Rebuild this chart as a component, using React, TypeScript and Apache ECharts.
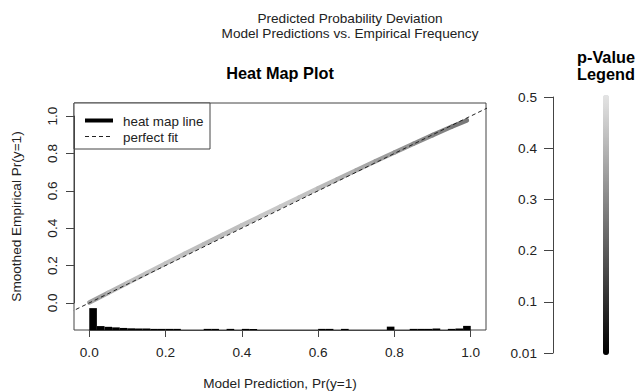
import React, { useEffect, useRef } from "react";
import * as echarts from "echarts";

// ---- data ----
const xTicks = [0, 0.2, 0.4, 0.6, 0.8, 1.0];
const yTicks = [0, 0.2, 0.4, 0.6, 0.8, 1.0];
const pTicks = [0.01, 0.1, 0.2, 0.3, 0.4, 0.5];

// heat map (smoothed calibration) line
const heatX = [0.0, 0.05, 0.1, 0.15, 0.2, 0.25, 0.3, 0.35, 0.4, 0.45, 0.5, 0.55, 0.6, 0.65, 0.7, 0.75, 0.8, 0.85, 0.9, 0.95, 0.99];
const heatY = [0.002, 0.054, 0.107, 0.159, 0.211, 0.263, 0.314, 0.365, 0.415, 0.465, 0.515, 0.564, 0.613, 0.662, 0.71, 0.758, 0.805, 0.852, 0.898, 0.943, 0.977];
const heatP = [0.36, 0.4, 0.42, 0.43, 0.43, 0.42, 0.41, 0.42, 0.43, 0.44, 0.44, 0.43, 0.41, 0.39, 0.37, 0.35, 0.33, 0.31, 0.29, 0.27, 0.25];

// perfect fit line (y = x)
const perfectX = [-0.2, 1.2];

// histogram of predictions (bin start, height in y units)
const histStart = [0.0, 0.02, 0.04, 0.06, 0.08, 0.1, 0.12, 0.14, 0.16, 0.18, 0.2, 0.22, 0.3, 0.32, 0.36, 0.4, 0.42, 0.6, 0.62, 0.66, 0.78, 0.84, 0.86, 0.88, 0.9, 0.94, 0.96, 0.98];
const histHeight = [0.117, 0.021, 0.017, 0.014, 0.011, 0.009, 0.008, 0.008, 0.006, 0.006, 0.006, 0.006, 0.006, 0.006, 0.006, 0.006, 0.006, 0.006, 0.006, 0.006, 0.018, 0.006, 0.006, 0.006, 0.008, 0.006, 0.008, 0.022];
const histBinWidth = 0.02;

// ---- layout ----
const X_MIN = -0.04, X_MAX = 1.04, Y_MIN = -0.145, Y_MAX = 1.07;
const PL = 74, PT = 103, PW = 412, PH = 227;
const FONT = "'Liberation Sans', Arial, sans-serif";
const TXT = "#222";
const AX = "#444";

export default function App() {
  const ref = useRef<HTMLDivElement>(null);
  useEffect(() => {
    if (!ref.current) return;
    document.body.style.margin = "0";
    const chart = echarts.init(ref.current, null, { renderer: "svg" });

    const xs = PW / (X_MAX - X_MIN);
    const ys = PH / (Y_MAX - Y_MIN);
    const axLeft = PL + (0 - X_MIN) * xs;
    const axWidth = (xTicks[xTicks.length - 1] - xTicks[0]) * xs;
    const axTop = PT + (Y_MAX - 1) * ys;
    const axHeight = (yTicks[yTicks.length - 1] - yTicks[0]) * ys;

    const heatSegs = heatX.slice(0, -1).map((x, i) => [x, heatY[i], heatX[i + 1], heatY[i + 1], heatP[i]]);
    const hist = histStart.map((s, i) => [s, s + histBinWidth, histHeight[i]]);

    const labelStyle = { color: TXT, fontSize: 13.6, fontFamily: FONT };

    chart.setOption({
      animation: false,
      backgroundColor: "#fff",
      grid: [
        { left: PL, top: PT, width: PW, height: PH, show: true, borderColor: AX, borderWidth: 1, backgroundColor: "transparent" },
        { left: axLeft, top: axTop, width: axWidth, height: axHeight, show: false },
        { left: 553, top: 97, width: 40, height: 256, show: false },
      ],
      xAxis: [
        { gridIndex: 0, type: "value", min: X_MIN, max: X_MAX, show: false },
        {
          gridIndex: 1, type: "value", min: 0, max: 1, interval: 0.2, position: "bottom", offset: PT + PH - (axTop + axHeight),
          axisLine: { show: true, onZero: false, lineStyle: { color: AX, width: 1 } },
          axisTick: { show: true, length: 7, lineStyle: { color: AX } },
          splitLine: { show: false },
          axisLabel: { ...labelStyle, margin: 15, formatter: (v: number) => v.toFixed(1) },
        },
        { gridIndex: 2, type: "value", min: 0, max: 1, show: false },
      ],
      yAxis: [
        { gridIndex: 0, type: "value", min: Y_MIN, max: Y_MAX, show: false },
        {
          gridIndex: 1, type: "value", min: 0, max: 1, interval: 0.2, position: "left", offset: axLeft - PL,
          axisLine: { show: true, onZero: false, lineStyle: { color: AX, width: 1 } },
          axisTick: { show: true, length: 8, lineStyle: { color: AX } },
          splitLine: { show: false },
          axisLabel: { ...labelStyle, margin: 15, rotate: 90, formatter: (v: number) => v.toFixed(1) },
        },
        {
          gridIndex: 2, type: "value", min: 0, max: 0.5, interval: 0.1, position: "left",
          axisLine: { show: true, onZero: false, lineStyle: { color: AX, width: 1 } },
          axisTick: { show: true, length: 9, lineStyle: { color: AX } },
          splitLine: { show: false },
          axisLabel: {
            ...labelStyle, margin: 16,
            formatter: (v: number) => (v === 0 ? pTicks[0].toFixed(2) : v.toFixed(1)),
          },
        },
      ],
      visualMap: {
        type: "continuous",
        min: pTicks[0], max: pTicks[pTicks.length - 1],
        dimension: 4,
        seriesIndex: 1,
        orient: "vertical",
        left: 603, top: 95,
        itemWidth: 6, itemHeight: 260,
        padding: 0,
        calculable: false,
        hoverLink: false,
        inRange: { color: ["#000000", "#e4e4e4"] },
      },
      series: [
        {
          type: "custom", xAxisIndex: 0, yAxisIndex: 0, clip: true, z: 2,
          data: hist,
          encode: { x: [0, 1], y: 2 },
          renderItem: (params: any, api: any) => {
            const p0 = api.coord([api.value(0), Y_MIN]);
            const p1 = api.coord([api.value(1), Y_MIN + api.value(2)]);
            return {
              type: "rect",
              shape: { x: p0[0], y: p1[1], width: p1[0] - p0[0], height: p0[1] - p1[1] },
              style: { fill: "#000" },
            };
          },
        },
        {
          type: "custom", xAxisIndex: 0, yAxisIndex: 0, clip: true, z: 3,
          data: heatSegs,
          dimensions: ["x0", "y0", "x1", "y1", "p"],
          encode: { x: [0, 2], y: [1, 3] },
          renderItem: (params: any, api: any) => {
            const a = api.coord([api.value(0), api.value(1)]);
            const b = api.coord([api.value(2), api.value(3)]);
            return {
              type: "line",
              shape: { x1: a[0], y1: a[1], x2: b[0], y2: b[1] },
              style: { stroke: api.visual("color"), lineWidth: 4.5, lineCap: "round" },
            };
          },
        },
        {
          type: "line", xAxisIndex: 0, yAxisIndex: 0, z: 4, clip: true,
          data: perfectX.map((x) => [x, x]),
          symbol: "none",
          lineStyle: { color: "#222", width: 1, type: [4, 3] },
        },
      ],
      graphic: [
        {
          type: "text", x: 350, y: 18,
          style: { text: "Predicted Probability Deviation", align: "center", verticalAlign: "middle", fill: TXT, fontSize: 13.6, fontFamily: FONT },
        },
        {
          type: "text", x: 350, y: 33,
          style: { text: "Model Predictions vs. Empirical Frequency", align: "center", verticalAlign: "middle", fill: TXT, fontSize: 13.6, fontFamily: FONT },
        },
        {
          type: "text", x: PL + PW / 2, y: 73,
          style: { text: "Heat Map Plot", align: "center", verticalAlign: "middle", fill: "#000", fontSize: 16.3, fontWeight: "bold", fontFamily: FONT },
        },
        {
          type: "text", x: 606, y: 57,
          style: { text: "p-Value", align: "center", verticalAlign: "middle", fill: "#000", fontSize: 16.3, fontWeight: "bold", fontFamily: FONT },
        },
        {
          type: "text", x: 606, y: 74,
          style: { text: "Legend", align: "center", verticalAlign: "middle", fill: "#000", fontSize: 16.3, fontWeight: "bold", fontFamily: FONT },
        },
        {
          type: "text", x: PL + PW / 2, y: 383,
          style: { text: "Model Prediction, Pr(y=1)", align: "center", verticalAlign: "middle", fill: TXT, fontSize: 13.6, fontFamily: FONT },
        },
        {
          type: "text", x: 16, y: PT + PH / 2, rotation: Math.PI / 2,
          style: { text: "Smoothed Empirical Pr(y=1)", align: "center", verticalAlign: "middle", fill: TXT, fontSize: 13.6, fontFamily: FONT },
        },
        // legend box
        {
          type: "group", z: 10,
          children: [
            { type: "rect", shape: { x: 74, y: 103, width: 136, height: 46 }, style: { fill: "#fff", stroke: AX, lineWidth: 1 } },
            { type: "line", shape: { x1: 85, y1: 120.5, x2: 113, y2: 120.5 }, style: { stroke: "#000", lineWidth: 4 } },
            { type: "text", x: 123, y: 121, style: { text: "heat map line", verticalAlign: "middle", fill: TXT, fontSize: 13.4, fontFamily: FONT } },
            { type: "line", shape: { x1: 85, y1: 136.5, x2: 113, y2: 136.5 }, style: { stroke: "#222", lineWidth: 1, lineDash: [4, 3] } },
            { type: "text", x: 123, y: 137, style: { text: "perfect fit", verticalAlign: "middle", fill: TXT, fontSize: 13.4, fontFamily: FONT } },
          ],
        },
      ],
    });
    return () => chart.dispose();
  }, []);
  return <div ref={ref} style={{ position: "absolute", left: 0, top: 0, width: 636, height: 391 }} />;
}
